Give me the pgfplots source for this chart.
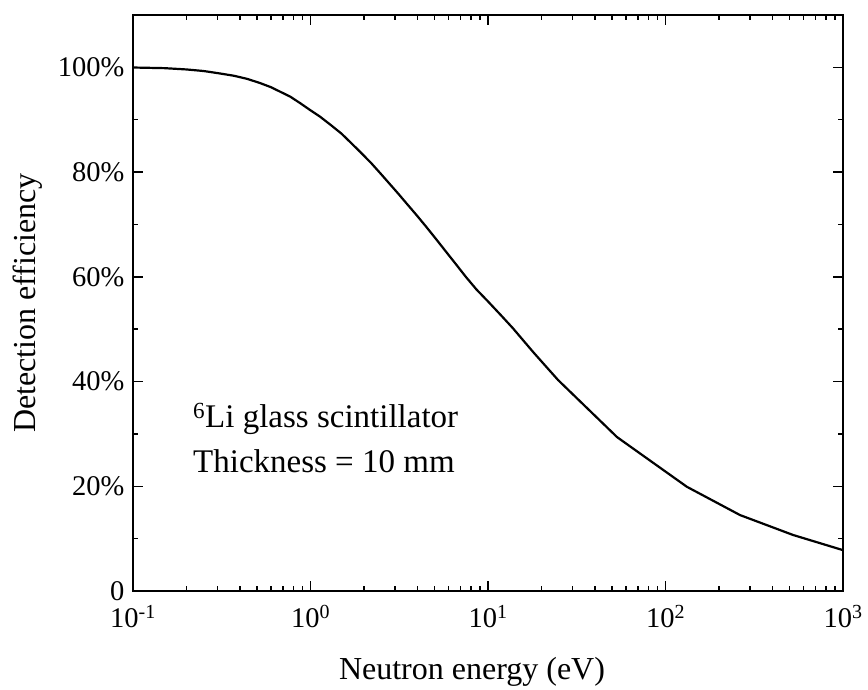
\documentclass[border=0pt]{standalone}
\usepackage{pgfplots}
\pgfplotsset{compat=1.18}
\usepackage{fontspec}
\setmainfont{Liberation Serif}

\begin{document}
\begin{tikzpicture}[x=1pt,y=1pt]
\path[use as bounding box] (-133,-99) rectangle (735,591);
\begin{axis}[
  at={(0,0)}, anchor=south west,
  scale only axis, width=710pt, height=576pt,
  xmode=log, xmin=0.1, xmax=1000, ymin=0, ymax=110,
  xtick={0.1,1,10,100,1000},
  xticklabels={10\textsuperscript{-1},10\textsuperscript{0},10\textsuperscript{1},10\textsuperscript{2},10\textsuperscript{3}},
  minor xtick={0.2,0.3,0.4,0.5,0.6,0.7,0.8,0.9,2,3,4,5,6,7,8,9,20,30,40,50,60,70,80,90,200,300,400,500,600,700,800,900},
  ytick={0,20,40,60,80,100},
  yticklabels={0,20\%,40\%,60\%,80\%,100\%},
  minor ytick={10,30,50,70,90},
  tick align=inside,
  major tick length=10pt, minor tick length=5pt,
  every tick/.style={black, line width=1.5pt},
  axis line style={line width=2pt},
  ticklabel style={font=\fontsize{28.5}{30}\selectfont},
  yticklabel style={xshift=-5pt},
  xticklabel style={yshift=-11pt},
  xlabel={Neutron energy (eV)},
  ylabel={Detection efficiency},
  every axis x label/.style={at={(axis description cs:0.4775,-0.1545)}, anchor=base,
    font=\fontsize{32}{36}\selectfont},
  every axis y label/.style={at={(axis description cs:-0.148,0.5)}, rotate=90, anchor=center,
    font=\fontsize{32}{36}\selectfont},
  clip=true,
]
% 6Li glass, 10 mm: detection efficiency versus neutron energy
\addplot[black, line width=2.2pt, line join=round] coordinates {
  (0.1,99.97) (0.15,99.85) (0.2,99.6) (0.25,99.3) (0.3,98.9) (0.37,98.4)
  (0.44,97.8) (0.52,97.0) (0.6,96.2) (0.67,95.4) (0.77,94.4) (0.88,93.1)
  (1.0,91.8) (1.13,90.6) (1.3,89.0) (1.5,87.3) (1.7,85.5) (1.9,83.9)
  (2.2,81.7) (2.5,79.6) (2.8,77.7) (3.1,76.0) (3.5,73.9) (4.0,71.6)
  (4.5,69.5) (5.1,67.2) (5.8,64.8) (6.6,62.4) (7.5,60.0) (8.6,57.6)
  (10,55.3) (11.8,52.7) (13.8,50.2) (18,45.6) (24.8,40.3) (53.3,29.4)
  (67,27.0) (132,19.9) (263,14.5) (523,10.7) (1000,7.8)
};
\node[anchor=base west, inner sep=0pt, font=\fontsize{33}{36}\selectfont]
  at (rel axis cs:0.0845,0.283) {\textsuperscript{6}Li glass scintillator};
\node[anchor=base west, inner sep=0pt, font=\fontsize{33}{36}\selectfont]
  at (rel axis cs:0.0845,0.205) {Thickness = 10 mm};
\end{axis}
\end{tikzpicture}
\end{document}
